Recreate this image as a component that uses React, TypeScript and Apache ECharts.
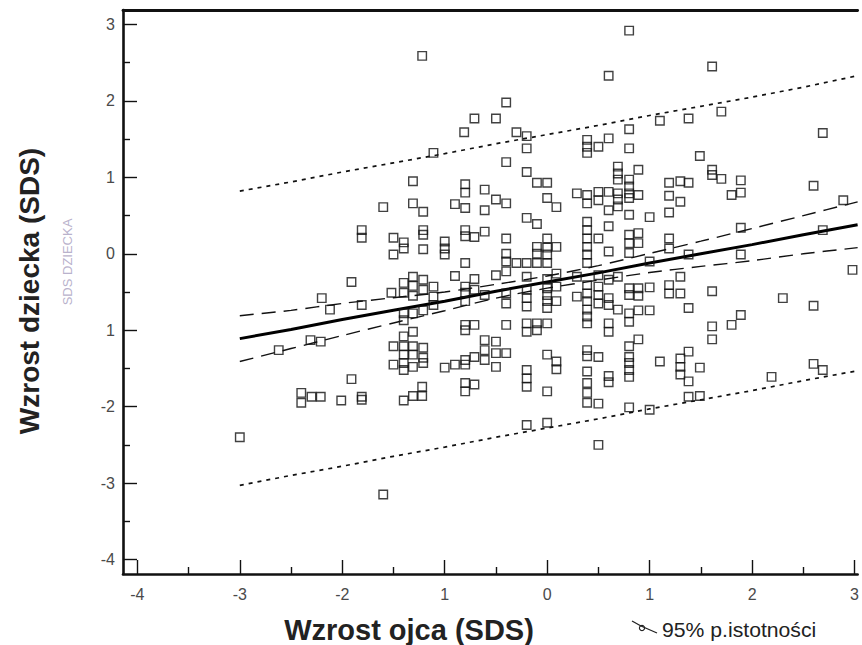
import React, { useEffect, useRef } from "react";
import * as echarts from "echarts";

// Father height SDS (x) vs child height SDS (y)
const scatterPoints: [number, number][] = [
  [-1.22, 2.59], [-0.71, 1.77], [-0.81, 1.59], [-1.11, 1.32], [-1.31, 0.95], [-1.6, 0.61], [-1.31, 0.66],
  [-1.21, 0.55], [-0.9, 0.65], [-0.8, 0.6], [-0.8, 0.91], [-0.8, 0.8], [-0.61, 0.84], [-0.61, 0.57],
  [-1.81, 0.31], [-1.81, 0.21], [-1.5, 0.21], [-1.5, -0.01], [-1.4, 0.15], [-1.4, 0.07], [-1.21, 0.31],
  [-1.21, 0.25], [-1.21, 0.06], [-1.0, 0.16], [-1.0, 0.07], [-1.0, -0.01], [-0.8, 0.31], [-0.8, 0.23],
  [-0.71, 0.22], [-0.61, 0.29], [-0.8, -0.12],
  [0.8, 2.92], [0.6, 2.33], [1.61, 2.45], [-0.4, 1.98], [-0.5, 1.77], [-0.3, 1.59], [-0.2, 1.54],
  [-0.2, 1.38], [0.8, 1.63], [0.8, 1.38], [1.1, 1.74], [1.38, 1.77], [1.7, 1.86], [2.69, 1.58],
  [0.39, 1.49], [0.39, 1.4], [0.39, 1.32], [0.5, 1.4], [0.6, 1.51], [1.49, 1.28], [-0.4, 1.2],
  [-0.2, 1.07], [-0.1, 0.93], [0.0, 0.93], [-0.5, 0.71], [-0.4, 0.66], [0.0, 0.73], [0.09, 0.61],
  [-0.2, 0.47], [-0.1, 0.39], [-0.4, 0.2], [0.0, 0.2], [0.09, 0.09], [-0.1, 0.09], [-0.1, 0.0],
  [-0.4, 0.0], [-0.4, -0.1], [-0.3, -0.12], [-0.2, -0.12], [-0.1, -0.12], [-0.5, -0.28],
  [0.39, 0.77], [0.39, 0.66], [0.39, 0.42], [0.39, 0.31], [0.39, 0.2], [0.39, 0.09], [0.39, -0.01],
  [0.39, -0.12], [0.29, 0.79], [0.5, 0.81], [0.5, 0.7], [0.5, 0.2], [0.6, 0.81], [0.6, 0.57],
  [0.6, 0.36], [0.6, 0.03], [0.69, 1.14], [0.69, 1.05], [0.69, 0.97], [0.69, 0.79], [0.69, 0.71],
  [0.69, 0.62], [0.8, 0.97], [0.8, 0.88], [0.8, 0.79], [0.8, 0.73], [0.8, 0.51], [0.8, 0.25],
  [0.8, 0.14], [0.8, 0.01], [0.89, 1.1], [0.89, 0.77], [0.89, 0.27], [0.89, 0.14], [1.0, 0.48],
  [1.0, -0.1], [1.19, 0.93], [1.19, 0.76], [1.19, 0.54], [1.19, 0.2], [1.19, 0.07], [1.3, 0.95],
  [1.38, 0.93], [1.3, 0.68], [1.38, -0.01], [1.61, 1.1], [1.61, 1.03], [1.7, 0.98], [1.89, 0.96],
  [1.89, 0.8], [1.8, 0.77], [2.6, 0.89], [2.89, 0.7], [1.89, 0.34], [1.89, -0.01], [2.69, 0.31],
  [2.98, -0.21], [0.0, 0.08], [0.0, -0.01], [0.0, -0.12],
  [-3.0, -2.4], [-2.62, -1.26], [-2.31, -1.13], [-2.21, -1.15], [-2.2, -0.58], [-2.12, -0.73],
  [-1.91, -0.37], [-1.81, -0.67], [-1.91, -1.64], [-2.4, -1.82], [-2.4, -1.95], [-2.3, -1.87],
  [-2.21, -1.87], [-2.01, -1.92], [-1.81, -1.87], [-1.81, -1.91], [-1.4, -1.92], [-1.31, -1.86],
  [-1.22, -1.74], [-1.22, -1.86], [-1.52, -0.51], [-1.4, -0.38], [-1.4, -0.51], [-1.31, -0.3],
  [-1.31, -0.42], [-1.31, -0.55], [-1.21, -0.34], [-1.21, -0.47], [-1.11, -0.43], [-1.11, -0.56],
  [-1.11, -0.67], [-1.21, -0.74], [-1.31, -0.78], [-1.4, -0.78], [-1.4, -0.87], [-0.9, -0.29],
  [-0.8, -0.43], [-0.8, -0.51], [-0.8, -0.62], [-0.71, -0.47], [-0.71, -0.33], [-0.61, -0.54],
  [-1.4, -1.08], [-1.31, -1.02], [-1.5, -1.21], [-1.4, -1.21], [-1.31, -1.21], [-1.21, -1.23],
  [-1.4, -1.32], [-1.31, -1.32], [-1.21, -1.36], [-1.5, -1.45], [-1.4, -1.43], [-1.31, -1.48],
  [-1.21, -1.43], [-1.4, -1.52], [-1.0, -1.49], [-0.9, -1.45], [-0.8, -1.39], [-0.8, -1.45],
  [-0.71, -1.35], [-0.61, -1.26], [-0.61, -1.39], [-0.61, -1.13], [-0.8, -0.93], [-0.71, -0.93],
  [-0.8, -1.0], [-0.8, -1.69], [-0.8, -1.8], [-0.71, -1.71], [-1.6, -3.15],
  [-0.4, -0.52], [-0.4, -0.65], [-0.2, -0.47], [-0.2, -0.58], [-0.2, -0.69], [0.0, -0.45],
  [0.0, -0.54], [0.0, -0.62], [0.0, -0.71], [0.09, -0.43], [0.09, -0.62], [0.29, -0.56],
  [0.39, -0.41], [0.39, -0.52], [0.39, -0.62], [0.39, -0.73], [0.39, -0.82], [0.39, -0.91],
  [0.5, -0.43], [0.5, -0.54], [0.5, -0.65], [0.6, -0.34], [0.6, -0.58], [0.6, -0.67], [0.69, -0.73],
  [0.8, -0.45], [0.8, -0.54], [0.8, -0.78], [0.8, -0.89], [0.89, -0.45], [0.89, -0.55], [0.89, -0.74],
  [1.0, -0.44], [1.0, -0.74], [1.19, -0.41], [1.19, -0.52], [1.3, -0.3], [1.3, -0.52], [1.38, -0.71],
  [1.61, -0.49], [1.61, -0.95], [1.61, -1.12], [1.8, -0.93], [1.89, -0.8], [2.3, -0.58], [2.6, -0.68],
  [-0.4, -0.93], [-0.2, -0.91], [-0.2, -1.02], [-0.1, -0.91], [-0.1, -1.0], [0.0, -0.91],
  [0.39, -1.26], [0.39, -1.34], [0.5, -1.35], [0.6, -0.91], [0.6, -1.02], [0.89, -1.12], [0.8, -1.21],
  [0.8, -1.35], [0.8, -1.43], [0.8, -1.52], [0.8, -1.61], [1.1, -1.41], [1.3, -1.37], [1.3, -1.48],
  [1.3, -1.58], [1.38, -1.28], [1.38, -1.67], [1.49, -1.49], [1.38, -1.87], [1.49, -1.86],
  [2.19, -1.61], [2.6, -1.44], [2.69, -1.52], [0.0, -1.32], [0.09, -1.41], [0.09, -1.51],
  [-0.2, -1.52], [-0.2, -1.63], [-0.2, -1.74], [0.0, -1.8], [0.39, -1.54], [0.39, -1.69],
  [0.39, -1.82], [0.39, -1.95], [0.5, -1.96], [0.6, -1.6], [0.6, -1.68], [-0.2, -2.24], [0.0, -2.21],
  [0.8, -2.01], [1.0, -2.04], [0.5, -2.5], [-0.5, -1.15], [-0.5, -1.3], [-0.5, -1.48], [-0.4, -1.3],
  [-0.4, -0.23], [-0.2, -0.3], [0.0, -0.33], [0.09, -0.26], [0.29, -0.3], [0.5, -0.28], [0.69, -0.3],
];

// Regression line, 95% confidence band and prediction band
const lineX = [-3, -2.5, -2, -1.5, -1, -0.5, 0, 0.5, 1, 1.5, 2, 2.5, 3.03];
const fitY = [-1.11, -0.99, -0.86, -0.74, -0.62, -0.49, -0.37, -0.25, -0.12, 0.0, 0.12, 0.25, 0.38];
const ciUpperY = [-0.81, -0.74, -0.65, -0.575, -0.5, -0.4, -0.29, -0.155, 0.005, 0.165, 0.33, 0.5, 0.68];
const ciLowerY = [-1.41, -1.24, -1.07, -0.905, -0.745, -0.58, -0.45, -0.345, -0.245, -0.165, -0.09, 0.0, 0.08];
const piUpperY = [0.82, 0.94, 1.07, 1.19, 1.31, 1.44, 1.56, 1.68, 1.81, 1.93, 2.05, 2.18, 2.33];
const piLowerY = [-3.03, -2.9, -2.78, -2.65, -2.53, -2.4, -2.28, -2.16, -2.03, -1.91, -1.79, -1.66, -1.53];

const xTickValues = [-4, -3, -2, -1, 0, 1, 2, 3];
const xTickLabels = ["-4", "-3", "-2", "1", "0", "1", "2", "3"];
const xMinorTicks = [-3.5, -2.5, -1.5, -0.5, 0.5, 1.5, 2.5];
const yTickValues = [-4, -3, -2, -1, 0, 1, 2, 3];
const yTickLabels = ["-4", "-3", "-2", "1", "0", "1", "2", "3"];
const yMinorTicks = [-3.5, -2.5, -1.5, -0.5, 0.5, 1.5, 2.5];

const X_MIN = -4.14;
const X_MAX = 3.03;
const Y_MIN = -4.19;
const Y_MAX = 3.19;

const FONT = "'Liberation Sans', Arial, Helvetica, sans-serif";

function pairs(xs: number[], ys: number[]) {
  return xs.map((x, i) => [x, ys[i]]);
}

export default function App() {
  const ref = useRef<HTMLDivElement>(null);

  useEffect(() => {
    if (!ref.current) return;
    const chart = echarts.init(ref.current, undefined, { renderer: "svg" });

    const lineBase = {
      type: "line",
      showSymbol: false,
      symbol: "none",
      xAxisIndex: 0,
      yAxisIndex: 0,
      silent: true,
      z: 2,
    };

    const option: any = {
      animation: false,
      backgroundColor: "#ffffff",
      grid: { left: 123, right: 0, top: 10, bottom: 71, containLabel: false },
      xAxis: [
        {
          type: "value",
          min: X_MIN,
          max: X_MAX,
          position: "bottom",
          axisLine: { show: true, onZero: false, lineStyle: { color: "#111", width: 2.6 } },
          axisTick: {
            show: true,
            inside: true,
            length: 14,
            customValues: xTickValues,
            lineStyle: { color: "#111", width: 1.4 },
          },
          axisLabel: {
            customValues: xTickValues,
            formatter: (v: number) => xTickLabels[xTickValues.indexOf(Math.round(v))] ?? "",
            margin: 12,
            fontSize: 16,
            color: "#4a4a4a",
            fontFamily: FONT,
          },
          splitLine: { show: false },
        },
        {
          type: "value",
          min: X_MIN,
          max: X_MAX,
          position: "bottom",
          axisLine: { show: false, onZero: false },
          axisTick: {
            show: true,
            inside: true,
            length: 7,
            customValues: xMinorTicks,
            lineStyle: { color: "#111", width: 1.4 },
          },
          axisLabel: { show: false },
          splitLine: { show: false },
        },
        {
          type: "value",
          min: X_MIN,
          max: X_MAX,
          position: "top",
          axisLine: { show: true, onZero: false, lineStyle: { color: "#111", width: 2.8 } },
          axisTick: { show: false },
          axisLabel: { show: false },
          splitLine: { show: false },
        },
      ],
      yAxis: [
        {
          type: "value",
          min: Y_MIN,
          max: Y_MAX,
          position: "left",
          axisLine: { show: true, onZero: false, lineStyle: { color: "#111", width: 2.6 } },
          axisTick: {
            show: true,
            inside: true,
            length: 14,
            customValues: yTickValues,
            lineStyle: { color: "#111", width: 1.4 },
          },
          axisLabel: {
            customValues: yTickValues,
            formatter: (v: number) => yTickLabels[yTickValues.indexOf(Math.round(v))] ?? "",
            margin: 8,
            fontSize: 16,
            color: "#4a4a4a",
            fontFamily: FONT,
          },
          splitLine: { show: false },
        },
        {
          type: "value",
          min: Y_MIN,
          max: Y_MAX,
          position: "left",
          axisLine: { show: false, onZero: false },
          axisTick: {
            show: true,
            inside: true,
            length: 7,
            customValues: yMinorTicks,
            lineStyle: { color: "#111", width: 1.4 },
          },
          axisLabel: { show: false },
          splitLine: { show: false },
        },
      ],
      series: [
        {
          ...lineBase,
          name: "pi-upper",
          data: pairs(lineX, piUpperY),
          lineStyle: { color: "#111", width: 1.7, type: [4, 5] },
        },
        {
          ...lineBase,
          name: "pi-lower",
          data: pairs(lineX, piLowerY),
          lineStyle: { color: "#111", width: 1.7, type: [4, 5] },
        },
        {
          ...lineBase,
          name: "ci-upper",
          smooth: 0.3,
          data: pairs(lineX, ciUpperY),
          lineStyle: { color: "#111", width: 1.4, type: [14, 8] },
        },
        {
          ...lineBase,
          name: "ci-lower",
          smooth: 0.3,
          data: pairs(lineX, ciLowerY),
          lineStyle: { color: "#111", width: 1.4, type: [14, 8] },
        },
        {
          ...lineBase,
          name: "fit",
          data: pairs(lineX, fitY),
          lineStyle: { color: "#000", width: 3, type: "solid" },
        },
        {
          type: "scatter",
          name: "points",
          xAxisIndex: 0,
          yAxisIndex: 0,
          symbol: "rect",
          symbolSize: 8.5,
          data: scatterPoints,
          itemStyle: { color: "rgba(255,255,255,0)", borderColor: "#111", borderWidth: 1.4 },
          z: 3,
        },
      ],
      graphic: [
        {
          type: "text",
          x: 29,
          y: 291,
          rotation: Math.PI / 2,
          style: {
            text: "Wzrost dziecka (SDS)",
            fontSize: 28,
            fontWeight: "bold",
            fontFamily: FONT,
            fill: "#222",
            align: "center",
            verticalAlign: "middle",
          },
        },
        {
          type: "text",
          x: 67,
          y: 262,
          rotation: Math.PI / 2,
          style: {
            text: "SDS DZIECKA",
            fontSize: 13,
            fontFamily: FONT,
            fill: "#b9b2cc",
            align: "center",
            verticalAlign: "middle",
          },
        },
        {
          type: "text",
          x: 409,
          y: 630,
          style: {
            text: "Wzrost ojca (SDS)",
            fontSize: 29,
            fontWeight: "bold",
            fontFamily: FONT,
            fill: "#222",
            align: "center",
            verticalAlign: "middle",
          },
        },
        {
          type: "polyline",
          shape: { points: [[632, 621], [641, 626], [657, 633]] },
          style: { stroke: "#222", lineWidth: 1.3, fill: null },
        },
        {
          type: "circle",
          shape: { cx: 642, cy: 628, r: 2.6 },
          style: { stroke: "#222", lineWidth: 1.2, fill: "none" },
        },
        {
          type: "text",
          x: 662,
          y: 630,
          scaleX: 1.06,
          style: {
            text: "95% p.istotności",
            fontSize: 20,
            fontFamily: FONT,
            fill: "#222",
            align: "left",
            verticalAlign: "middle",
          },
        },
      ],
    };

    chart.setOption(option);
    return () => chart.dispose();
  }, []);

  return (
    <div
      ref={ref}
      style={{ position: "absolute", left: 0, top: 0, width: 862, height: 645, background: "#fff" }}
    />
  );
}
